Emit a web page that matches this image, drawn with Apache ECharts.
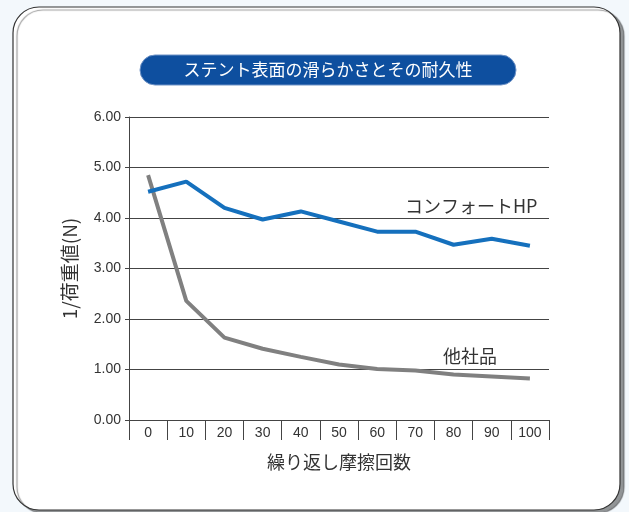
<!DOCTYPE html>
<html>
<head>
<meta charset="utf-8">
<script src="https://cdn.jsdelivr.net/npm/echarts@6/dist/echarts.min.js"></script>
<style>
  html, body { margin: 0; padding: 0; background: #f3f8fc; }
  #chart { width: 629px; height: 512px; }
</style>
</head>
<body>
<div id="chart"></div>
<script>
// 繰り返し摩擦回数
const cycles = ['0', '10', '20', '30', '40', '50', '60', '70', '80', '90', '100']
// コンフォートHP
const comfortHP = [4.52, 4.72, 4.2, 3.97, 4.13, 3.93, 3.73, 3.73, 3.47, 3.59, 3.45]
// 他社品
const otherBrand = [4.85, 2.36, 1.63, 1.41, 1.25, 1.1, 1.01, 0.98, 0.9, 0.86, 0.82]

const titleText = 'ステント表面の滑らかさとその耐久性'
const jpFont = '"Noto Sans CJK JP", "Noto Sans", sans-serif'
const numFont = '"Liberation Sans Narrow", "Liberation Sans", Arial, sans-serif'

const chart = echarts.init(document.getElementById('chart'))

const option = {
  backgroundColor: '#f3f8fc',
  animation: false,
  graphic: [
    // 外枠
    {
      type: 'rect',
      z: -10,
      shape: { x: 13, y: 7, width: 607, height: 503, r: 26 },
      style: {
        fill: '#fff',
        stroke: '#333',
        lineWidth: 1.2,
        shadowColor: 'rgba(0,0,0,0.4)',
        shadowOffsetX: 4,
        shadowOffsetY: 3,
        shadowBlur: 1
      }
    },
    // タイトル
    {
      type: 'rect',
      shape: { x: 140, y: 55, width: 376, height: 30, r: 15 },
      style: { fill: '#0e4f9f', stroke: '#6f93c6', lineWidth: 1 }
    },
    {
      type: 'text',
      x: 328,
      y: 70,
      style: {
        text: titleText,
        fill: '#fff',
        font: '17px ' + jpFont,
        align: 'center',
        verticalAlign: 'middle'
      }
    },
    // 系列名
    {
      type: 'text',
      x: 405,
      y: 206,
      style: {
        text: 'コンフォートHP',
        fill: '#333',
        font: '18px ' + jpFont,
        verticalAlign: 'middle'
      }
    },
    {
      type: 'text',
      x: 443,
      y: 356,
      style: {
        text: '他社品',
        fill: '#333',
        font: '18px ' + jpFont,
        verticalAlign: 'middle'
      }
    }
  ],
  grid: {
    left: 129,
    right: 80,
    top: 117,
    bottom: 92
  },
  xAxis: {
    type: 'category',
    data: cycles,
    boundaryGap: true,
    name: '繰り返し摩擦回数',
    nameLocation: 'middle',
    nameGap: 33,
    nameTextStyle: { fontSize: 18, color: '#333', fontFamily: jpFont },
    axisLine: { lineStyle: { color: '#444', width: 1 } },
    axisTick: { show: true, alignWithLabel: false, interval: 0, length: 20, lineStyle: { color: '#444' } },
    axisLabel: { margin: 6, fontSize: 14, color: '#333', fontFamily: numFont }
  },
  yAxis: {
    type: 'value',
    min: 0,
    max: 6,
    interval: 1,
    name: '1/荷重値(N)',
    nameLocation: 'middle',
    nameRotate: 90,
    nameGap: 50,
    nameTextStyle: { fontSize: 19, color: '#333', fontFamily: jpFont },
    axisLine: { show: true, lineStyle: { color: '#444', width: 1 } },
    axisTick: { show: true, length: 4, lineStyle: { color: '#444' } },
    axisLabel: {
      margin: 8,
      fontSize: 14,
      color: '#333',
      fontFamily: numFont,
      formatter: (v) => v.toFixed(2)
    },
    splitLine: { lineStyle: { color: '#444', width: 1 } }
  },
  series: [
    {
      name: 'コンフォートHP',
      type: 'line',
      data: comfortHP,
      symbol: 'none',
      lineStyle: { color: '#1570bd', width: 4 },
      z: 3
    },
    {
      name: '他社品',
      type: 'line',
      data: otherBrand,
      symbol: 'none',
      lineStyle: { color: '#808080', width: 4 },
      z: 2
    }
  ]
}

chart.setOption(option)
</script>
</body>
</html>
